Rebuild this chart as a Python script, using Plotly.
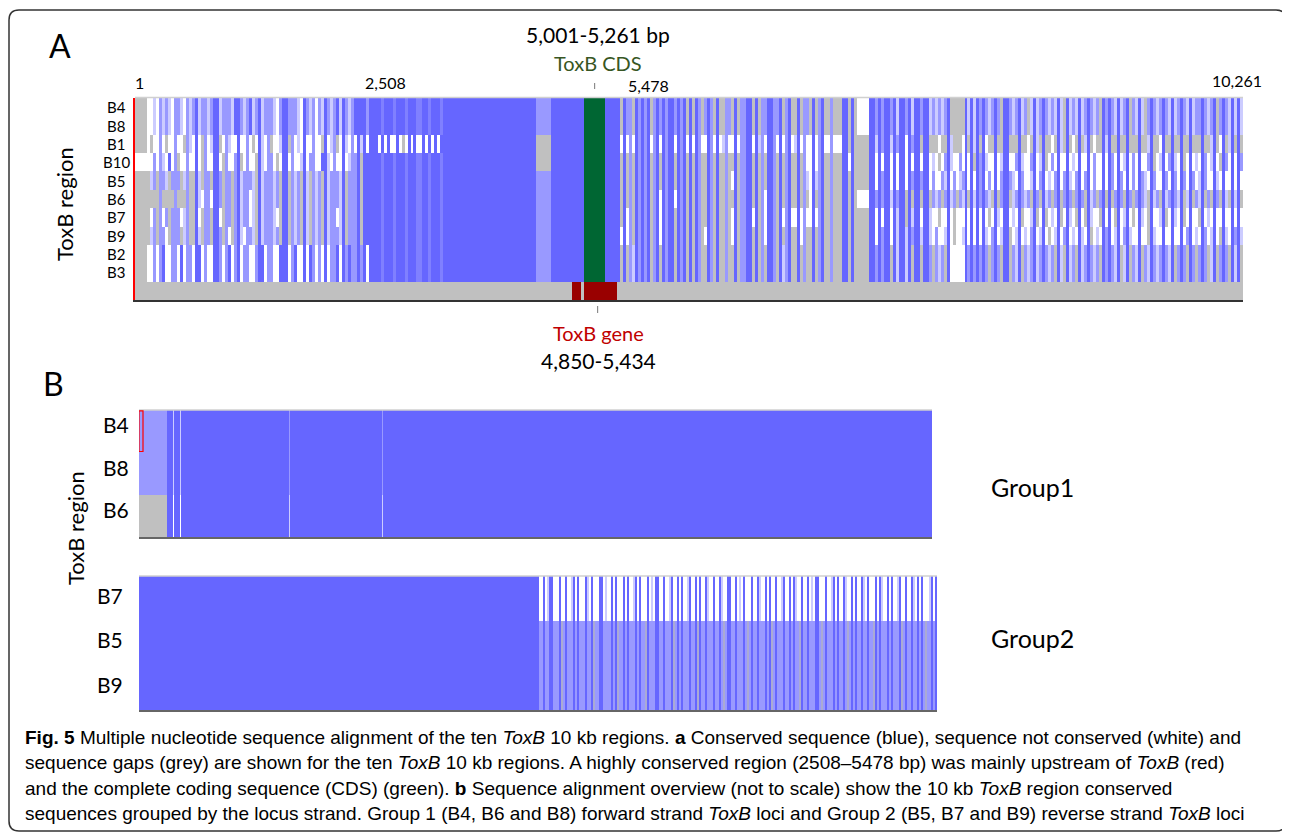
import plotly.graph_objects as go

PAGE_W, PAGE_H = 1290, 833
OFF = 8                      # default page margin of the html body
W, H = PAGE_W - OFF, PAGE_H - OFF
FONT = "Lato, 'Open Sans', sans-serif"
CAP_FONT = "'Liberation Sans', Arial, sans-serif"

# ---------------- colour codes ----------------
CODE_ORDER = ['w', 'g', 'p', 'l', 'b', 'G', 'R', 'q', 'm']
CODE_COLORS = {'w': '#FFFFFF', 'g': '#C0C0C0', 'p': '#CCCCFF', 'l': '#9999FF',
               'b': '#6666FF', 'G': '#006633', 'R': '#990000', 'q': '#AAAAD4',
               'm': '#8080FF'}

# ---------------- panel A data ----------------
ROWS_A = ["B4", "B8", "B1", "B10", "B5", "B6", "B7", "B9", "B2", "B3"]
SAME_AS = {"B8": "B4", "B3": "B2"}

HEAD = {"B4": "gggg", "B1": "gggg", "B10": "wwww", "B5": "gggg", "B6": "gggg",
        "B7": "gggg", "B9": "gggg", "B2": "gggg"}

LEFT = {
    "B4": "wwpwwplpww lpwwplpplp plpbplplpb plplbpllpl plpwlpllpl pwwlpwwlpl lplbpllplb lblllbl",
    "B1": "wgwwpwgwwp wwgwpwwwgw wpwwgwwpww gwwpwgwwpw wgwwpwwgww pwgwwpwwgw wpwgwwpwgw wpwwgww",
    "B10": "wwlwwpwbww gwwlwwpwgw wwbwwgpwwl wgwbwwgwpw wlwgwwbwgw wpwwlgwwbw pwgwwlwpgl lglblbl",
    "B5": "gplgglpglg lgplgglpgl lglplgplgl lplglpglpl glplgplglp lglpglplgl plglplglpl lglblbl",
    "B6": "gggggggggg ggggggbpwl lwlplgplgl lplgwpglpl glplgplglp lgwpglplgl plglplglpl lglblbl",
    "B7": "gwlgpwlglg lwplgglwgl lglpwgplgl lplgwpglpl glpwgplglp lglpgwplgl plgwplglpl lglblbl",
    "B9": "gplgglwglg lgpwgglpgl lglplgpwgl lpwglpglpl glplgpwglp lgwpglplgl plglpwglpl lglblbl",
    "B2": "wwlwwbwwlw wbwwlwwbwg wwbwlwwbwl wwlbwwlwbw wlwwbwlwwb wwlwbwwlwb wlwbwwlbwl blbwlbl",
}

MID = {
    "B4": "b1 m1 b3 m1 b3 m1 b3 m1 m1 b2 m1 b3 m1 b31 l5 b11 G7 b5",
    "B1": "w1 b1 w1 b1 w2 b1 w1 g1 w1 b1 w1 b1 w2 b1 w1 b1 w1 b1 w1 b32 g5 b11 G7 b5",
    "B10": "b1 m1 b3 m1 b3 m1 b3 m1 m1 b2 m1 b3 m1 b31 g5 b11 G7 b5",
    "B5": "b1 m1 b3 m1 b3 m1 b3 m1 m1 b2 m1 b3 m1 b31 l5 b11 G7 b5",
    "B6": "b1 m1 b3 m1 b3 m1 b3 m1 m1 b2 m1 b3 m1 b31 l5 b11 G7 b5",
    "B7": "b1 m1 b3 m1 b3 m1 b3 m1 m1 b2 m1 b3 m1 b31 l5 b11 G7 b5",
    "B9": "b1 m1 b3 m1 b3 m1 b3 m1 m1 b2 m1 b3 m1 b31 l5 b11 G7 b5",
    "B2": "b1 m1 b3 m1 b3 m1 b3 m1 m1 b2 m1 b3 m1 b31 l5 b11 G7 b5",
}

RIGHT = {
    "B4": ("gglggglglg glglgglglg glglgggglg gglggglglg lgglglggll gglggglggl gglggglggg gggg "
           "ggglg wwww "
           "lplpllpllp lpllplplpl plplplpggg gglplpllpl plplglplpl lplgplplpl plplpglplp "
           "lplplplgpl plplplpglp lpglplplpl plplglplpl lplplpglpl plplp"),
    "B1": ("wwwwwwwpww wwwwwwwwww wpwwwwwwww wwwwpwwwww wwwwwwpwww wwwwwwwwpw wwwwwwwwww wwww "
           "ggggg gggg "
           "plpwlplpwl plwplplgpw gggwgggpgg gwgggpgggw ggpgggwggg pggwggpggg gwggpgggwg "
           "ggpggwgggp gggwggpggg wggpgggwgg gpggwggpgg gwggpggwgg pggwg"),
    "B10": ("gggggpgggg ggggggpggg gggggggggg ggpgggggpg gggggggggg gggggggggg gpwwpwwggg gggg "
            "gwwwg gggg "
            "wpwlwwpwlw wlwpwwlwpw wpwgwlwpww lwpwwgwlwp wwlwpwgwwl wpwwlwwpwg wlwpwwlwpw "
            "gwwpwlwwpw wlwgwpwwlw pwwlwgwpww lwpwwgwlwp wwlwpwwgwl wpwwl"),
    "B5": ("gggggggwwg gggggggggw ggggggwggg gggggggwgg ggwwgggggw gggggwgggg gwpwwpwggg gggg "
           "ggggg gggg "
           "wlwwlwpwlw lwwplwwlwp wlwwlpwwlw plwwlwplww lwpwlwwlpw wlwwplwlww pwlwwlwpwl "
           "wwlpwlwwlw plwwlwpwlw wlpwwlwwpl wwlwplwwlw pwlwwlpwlw wlwpw"),
    "B6": ("gggggggwwg ggwwggggwg wwgggggggg gggggggggg gwwgggggwg gggggwgggg gwgwwggggg gggg "
           "gwggg wwww "
           "lglplglpgl plglgplglp glplglgplg lplglpglgl pglglplgpl glplgplglp lglpglplgl "
           "plglplglpg lglplgplgl glpglplglp lglplgplgl plglgplglp glplg"),
    "B7": ("gwwwgggwwg ggwwgggwgg gggggggggg gggggggwwg gggwwwgwwg wwgwwwgwwg wwwwgwwggg gggg "
           "wwggg gggg "
           "wgwpwwgwwp wwgwpwwwgw pwwgwwpwgw wwpwgwwwpw gwwpwwgwpw wgwwpwgwwg wpwwgwwpwg "
           "wwgwpwwgww pwgwwpwwgw wpwgwwwpwg wwpwwgwpww gwwpwgwwpw wgwpw"),
    "B9": ("wwwggggwwg gggwgggggg ggggggggwg gggggggwgg ggwwggggwg gggggwgggg wwgggggggg gggg "
           "ggggg gggg "
           "wpwwlwpwwp wwpwlwwpww pwlwwpwwgw wpwwlwpwwp wlwwpwwgwp wwpwlwwpww gwpwwlwwpw "
           "wpwwgwpwwl wwpwwlwpww pwwgwpwwlw wpwwpwlwwp wwlwpwwgwp wwlwp"),
    "B2": ("ggggpggggg gggggggpgg gggggggggg ggpggggggg gggggggggg ggggpggggg gggggggggg gggg "
           "ggggg gggg "
           "lplglplglp glplgplglp lglplgpwww wwglplglpl glplglpglp lglplgplgl plglpglplg "
           "lplglplgpl glplgplglp lglpglplgl plglplgplg lplgplglpl glplg"),
}

# columns (within each striped block) conserved in all ten regions (blue) or partly (light)
LEFT_CONSERVED = [16, 22, 23, 30, 37, 45, 46, 52, 59, 65, 70, 72, 74, 75, 76]
LEFT_LIGHT = [4, 9, 13, 19, 26, 33, 40, 48, 55, 62, 68]
RIGHT_CONSERVED = [1, 5, 7, 9, 12, 14, 16, 17, 19, 21, 23, 25, 29, 32, 38, 42, 43, 45, 49, 50,
                   53, 56, 59, 64, 67, 74, 75, 77, 83, 84, 86, 88, 89, 91, 93, 94, 96, 98, 99,
                   101, 102, 109, 115, 117, 119, 121, 125, 128, 129, 133, 138, 141, 146, 149,
                   153, 156, 161, 163, 166, 169, 173, 177, 181, 184, 187, 190, 194, 198, 201,
                   204, 206]
RIGHT_LIGHT = [3, 6, 8, 11, 15, 20, 26, 30, 35, 40, 41, 47, 51, 55, 61, 66, 70]
GENE_TRACK = "g146 R3 g1 R11 g209"

TICK_LABELS = ["1", "2,508", "5,478", "10,261"]
TICK_COLS = [1, 83.3, 171, 367.5]

# ---------------- panel B data ----------------
G1_ROWS = ["B4", "B8", "B6"]
G1_RLE = {"B4": "l28 b6 p1 b6 p1 b108 l1 b92 l1 b549",
          "B8": "l28 b6 p1 b6 p1 b108 l1 b92 l1 b549",
          "B6": "g28 b6 w1 b6 w1 b108 p1 b92 p1 b549"}

G2_ROWS = ["B7", "B5", "B9"]
G2_SOLID = 199
G2_PATTERN = ("BWWBWLBBWW WBQWBWWLBW BWWWBLWBQW WBBWLWWBWB QWWBWBWWLB WBWWQBWLWB BWWBWWLBQW "
              "BWBWWLBWWB QBWWBLWWBW WBLQWBBWWB WLWBWQWBWW BLWWBWBQWB WWLBWWBWBL WQBWWBWLWB "
              "BWQWBWWLBW BWWBLQWBWB WWBLWBWWQB WBLWWBWBWW LBQWBWWBLW BWBWQWLBWB")
G2_MAP = {"B7": {"B": "b", "L": "p", "W": "w", "Q": "w"},
          "B5": {"B": "b", "L": "l", "W": "l", "Q": "q"},
          "B9": {"B": "b", "L": "l", "W": "l", "Q": "q"}}


# ---------------- decoding helpers ----------------
def clean(s):
    return s.replace(" ", "")


def rle(s):
    out = ""
    for tok in s.split():
        out += tok[0] * int(tok[1:])
    return out


def to_codes(s):
    return [CODE_ORDER.index(c) for c in s]


rows_a = []
for r in ROWS_A:
    src = SAME_AS.get(r, r)
    left = list(clean(LEFT[src]))
    for i in LEFT_LIGHT:
        left[i] = 'l'
    for i in LEFT_CONSERVED:
        left[i] = 'b'
    right = list(clean(RIGHT[src]))
    for j in RIGHT_LIGHT:
        right[j] = 'l'
    for j in RIGHT_CONSERVED:
        right[j] = 'b'
    s = HEAD[src] + "".join(left) + rle(MID[src]) + "".join(right)
    if len(s) != 370:
        raise ValueError(f"row {r}: {len(s)}")
    rows_a.append(to_codes(s))
gene = rle(GENE_TRACK)
rows_a.append(to_codes(gene))

rows_g1 = [to_codes(rle(G1_RLE[r])) for r in G1_ROWS]

pat = clean(G2_PATTERN)
assert len(pat) == 200, len(pat)
rows_g2 = []
for r in G2_ROWS:
    s = "b" * G2_SOLID + "".join(G2_MAP[r][c] for c in pat)
    rows_g2.append(to_codes(s))

n = len(CODE_ORDER)
colorscale = [[k / (n - 1), CODE_COLORS[c]] for k, c in enumerate(CODE_ORDER)]


def hm(z, xa, ya):
    return go.Heatmap(z=z, xaxis=xa, yaxis=ya, colorscale=colorscale, zmin=0, zmax=n - 1,
                      showscale=False, zsmooth=False, hoverinfo="skip")


fig = go.Figure()
fig.add_trace(hm(rows_a, "x", "y"))
fig.add_trace(hm(rows_g1, "x2", "y2"))
fig.add_trace(hm(rows_g2, "x3", "y3"))


def X(px):
    return (px - OFF) / W


def Y(py):
    return 1 - (py - OFF) / H


noax = dict(showgrid=False, zeroline=False, showticklabels=False, ticks="", fixedrange=True)

fig.update_layout(
    width=W, height=H, margin=dict(l=0, r=0, t=0, b=0),
    paper_bgcolor="white", plot_bgcolor="white", showlegend=False,
    font=dict(family=FONT, color="black"),
    xaxis=dict(domain=[X(135), X(1243)], range=[-0.5, 369.5], showline=True,
               linecolor="#333333", linewidth=2, **noax),
    yaxis=dict(domain=[Y(300), Y(98)], range=[10.5, -0.5], showline=True,
               linecolor="#FF0000", linewidth=1.5, **noax),
    xaxis2=dict(domain=[X(139), X(932)], range=[-0.5, 792.5], showline=True,
                linecolor="#666666", linewidth=2, anchor="y2", **noax),
    yaxis2=dict(domain=[Y(537), Y(410)], range=[2.5, -0.5], anchor="x2", **noax),
    xaxis3=dict(domain=[X(139), X(937)], range=[-0.5, 398.5], showline=True,
                linecolor="#666666", linewidth=2, anchor="y3", **noax),
    yaxis3=dict(domain=[Y(710), Y(576)], range=[2.5, -0.5], anchor="x3", **noax),
)

ann = []


def text(t, px, py, size, color="black", family=FONT, xanchor="center", **kw):
    ann.append(dict(text=t, x=X(px), y=Y(py), xref="paper", yref="paper", showarrow=False,
                    xanchor=xanchor, yanchor="middle",
                    font=dict(family=family, size=size, color=color), **kw))


# panel letters
text("A", 60, 46, 32)
text("B", 53, 383, 32)
# panel A labels
text("5,001-5,261 bp", 598, 35, 21)
text("ToxB CDS", 598, 63, 20, color="#375623")
text("ToxB gene", 598, 333, 20, color="#C00000")
text("4,850-5,434", 598, 360, 21)
text("ToxB region", 65, 204, 22, textangle=-90)
text("ToxB region", 75, 528, 22, textangle=-90)
text("Group1", 1032, 487, 25)
text("Group2", 1032, 638, 25)

tick_y = [82, 82, 86, 80]
for lab, col, ty in zip(TICK_LABELS, TICK_COLS, tick_y):
    ann.append(dict(text=lab, x=col, y=Y(ty), xref="x", yref="paper", showarrow=False,
                    xanchor="center", yanchor="middle",
                    font=dict(family=FONT, size=16, color="black")))

for i, r in enumerate(ROWS_A):
    ann.append(dict(text=r, x=X(116), y=i, xref="paper", yref="y", showarrow=False,
                    xanchor="center", yanchor="middle",
                    font=dict(family=FONT, size=15, color="black")))
for i, r in enumerate(G1_ROWS):
    ann.append(dict(text=r, x=X(116), y=i - 0.15, xref="paper", yref="y2", showarrow=False,
                    xanchor="center", yanchor="middle",
                    font=dict(family=FONT, size=21, color="black")))
for i, r in enumerate(G2_ROWS):
    ann.append(dict(text=r, x=X(110), y=i - 0.07, xref="paper", yref="y3", showarrow=False,
                    xanchor="center", yanchor="middle",
                    font=dict(family=FONT, size=21, color="black")))

# caption
CAPTION = [
    "<b>Fig. 5</b> Multiple nucleotide sequence alignment of the ten <i>ToxB</i> 10 kb regions. "
    "<b>a</b> Conserved sequence (blue), sequence not conserved (white) and",
    "sequence gaps (grey) are shown for the ten <i>ToxB</i> 10 kb regions. A highly conserved "
    "region (2508–5478 bp) was mainly upstream of <i>ToxB</i> (red)",
    "and the complete coding sequence (CDS) (green). <b>b</b> Sequence alignment overview "
    "(not to scale) show the 10 kb <i>ToxB</i> region conserved",
    "sequences grouped by the locus strand. Group 1 (B4, B6 and B8) forward strand <i>ToxB</i> "
    "loci and Group 2 (B5, B7 and B9) reverse strand <i>ToxB</i> loci",
]
for k, line in enumerate(CAPTION):
    text(line, 23, 737 + 25.5 * k, 19, family=CAP_FONT, xanchor="left")

fig.update_layout(annotations=ann)

# decorations: frame, top ruler line, small tick marks, highlight box
rx, ry = 10 / W, 10 / H
x0, x1, y0, y1 = X(9), X(1286), Y(10), Y(831)
frame = (f"M {x0 + rx},{y0} L {x1 - rx},{y0} Q {x1},{y0} {x1},{y0 - ry} "
         f"L {x1},{y1 + ry} Q {x1},{y1} {x1 - rx},{y1} L {x0 + rx},{y1} "
         f"Q {x0},{y1} {x0},{y1 + ry} L {x0},{y0 - ry} Q {x0},{y0} {x0 + rx},{y0} Z")
shapes = [
    dict(type="path", path=frame, xref="paper", yref="paper",
         line=dict(color="#333333", width=1.5)),
    dict(type="line", xref="x domain", yref="paper", x0=0, x1=1, y0=Y(97.5), y1=Y(97.5),
         line=dict(color="#D0D0D0", width=1.5)),
    dict(type="line", xref="x", yref="paper", x0=153, x1=153, y0=Y(83), y1=Y(89),
         line=dict(color="#777777", width=1)),
    dict(type="line", xref="x", yref="paper", x0=154, x1=154, y0=Y(306), y1=Y(313),
         line=dict(color="#777777", width=1)),
    dict(type="line", xref="x2 domain", yref="y2 domain", x0=0, x1=1, y0=1, y1=1,
         line=dict(color="#D0D0D0", width=1.5)),
    dict(type="line", xref="x3 domain", yref="y3 domain", x0=0, x1=1, y0=1, y1=1,
         line=dict(color="#D0D0D0", width=1.5)),
    dict(type="rect", xref="x2", yref="y2", x0=-0.5, x1=3.5, y0=-0.48, y1=0.48,
         line=dict(color="#FF0000", width=1.2)),
]
fig.update_layout(shapes=shapes)

fig.write_html("out.html")
